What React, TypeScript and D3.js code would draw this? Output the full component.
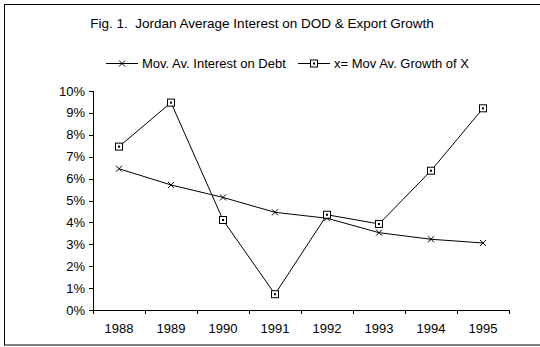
import React from "react";
import * as d3 from "d3";

const years = ["1988", "1989", "1990", "1991", "1992", "1993", "1994", "1995"];
const interestOnDebt = [6.45, 5.71, 5.14, 4.46, 4.19, 3.53, 3.23, 3.06];
const exportGrowth = [7.46, 9.47, 4.11, 0.72, 4.35, 3.93, 6.36, 9.21];
const yTicks = [0, 1, 2, 3, 4, 5, 6, 7, 8, 9, 10];

const W = 540;
const H = 347;
const left = 93;
const right = 509;
const top = 91;
const bottom = 310;
const FONT = "'Liberation Sans', Arial, sans-serif";

export default function App() {
  const x = d3.scaleBand<string>().domain(years).range([left, right]);
  const y = d3.scaleLinear().domain([0, 10]).range([bottom, top]);
  const cx = (d: string) => (x(d) ?? 0) + x.bandwidth() / 2;

  const line = d3
    .line<number>()
    .x((_, i) => cx(years[i]))
    .y((v) => y(v));

  const cross = (px: number, py: number, k: string) => (
    <path
      key={k}
      d={`M${px - 3},${py - 3}L${px + 3},${py + 3}M${px - 3},${py + 3}L${px + 3},${py - 3}`}
      stroke="#000"
      strokeWidth={1}
      fill="none"
    />
  );
  const square = (px: number, py: number, k: string) => (
    <g key={k}>
      <rect x={px - 3.5} y={py - 3.5} width={7} height={7} fill="#fff" stroke="#000" strokeWidth={1} />
      <rect x={px - 1} y={py - 1} width={2} height={2} fill="#000" />
    </g>
  );

  const tickXs = [...years.map((d) => x(d) ?? 0), right];

  return (
    <svg
      width={W}
      height={H}
      style={{ position: "absolute", left: 0, top: 0, background: "#fff", whiteSpace: "pre" }}
      fontFamily={FONT}
    >
      <rect x={4.5} y={4.5} width={W} height={340.5} fill="#fff" stroke="#000" strokeWidth={1} />

      <text x={262} y={28} fontSize={13.5} textAnchor="middle" fill="#000" style={{ whiteSpace: "pre" }}>
        {"Fig. 1.  Jordan Average Interest on DOD & Export Growth"}
      </text>

      {/* legend */}
      <g fontSize={13} fill="#000" style={{ whiteSpace: "pre" }}>
        <line x1={106} x2={138} y1={63.5} y2={63.5} stroke="#000" />
        {cross(122, 63.5, "lc")}
        <text x={142} y={68}>{"Mov.  Av. Interest on Debt"}</text>
        <line x1={298} x2={330} y1={63.5} y2={63.5} stroke="#000" />
        {square(314, 63.5, "ls")}
        <text x={334} y={68}>{"x= Mov Av. Growth of X"}</text>
      </g>

      {/* y axis */}
      <line x1={left + 0.5} x2={left + 0.5} y1={top} y2={bottom} stroke="#000" />
      {yTicks.map((t) => (
        <g key={t}>
          <line x1={left - 4} x2={left} y1={Math.round(y(t)) + 0.5} y2={Math.round(y(t)) + 0.5} stroke="#000" />
          <text x={left - 8} y={y(t) + 4.5} fontSize={13} textAnchor="end" fill="#000">
            {`${t}%`}
          </text>
        </g>
      ))}

      {/* x axis */}
      <line x1={left} x2={right} y1={bottom + 0.5} y2={bottom + 0.5} stroke="#000" />
      {tickXs.map((t, i) => (
        <line key={i} x1={Math.round(t) + 0.5} x2={Math.round(t) + 0.5} y1={bottom} y2={bottom + 4} stroke="#000" />
      ))}
      {years.map((d) => (
        <text key={d} x={cx(d)} y={bottom + 23} fontSize={13} textAnchor="middle" fill="#000">
          {d}
        </text>
      ))}

      {/* series */}
      <path d={line(interestOnDebt) ?? ""} fill="none" stroke="#000" strokeWidth={1} />
      <path d={line(exportGrowth) ?? ""} fill="none" stroke="#000" strokeWidth={1} />
      {interestOnDebt.map((v, i) => cross(cx(years[i]), y(v), `c${i}`))}
      {exportGrowth.map((v, i) => square(cx(years[i]), y(v), `s${i}`))}
    </svg>
  );
}
